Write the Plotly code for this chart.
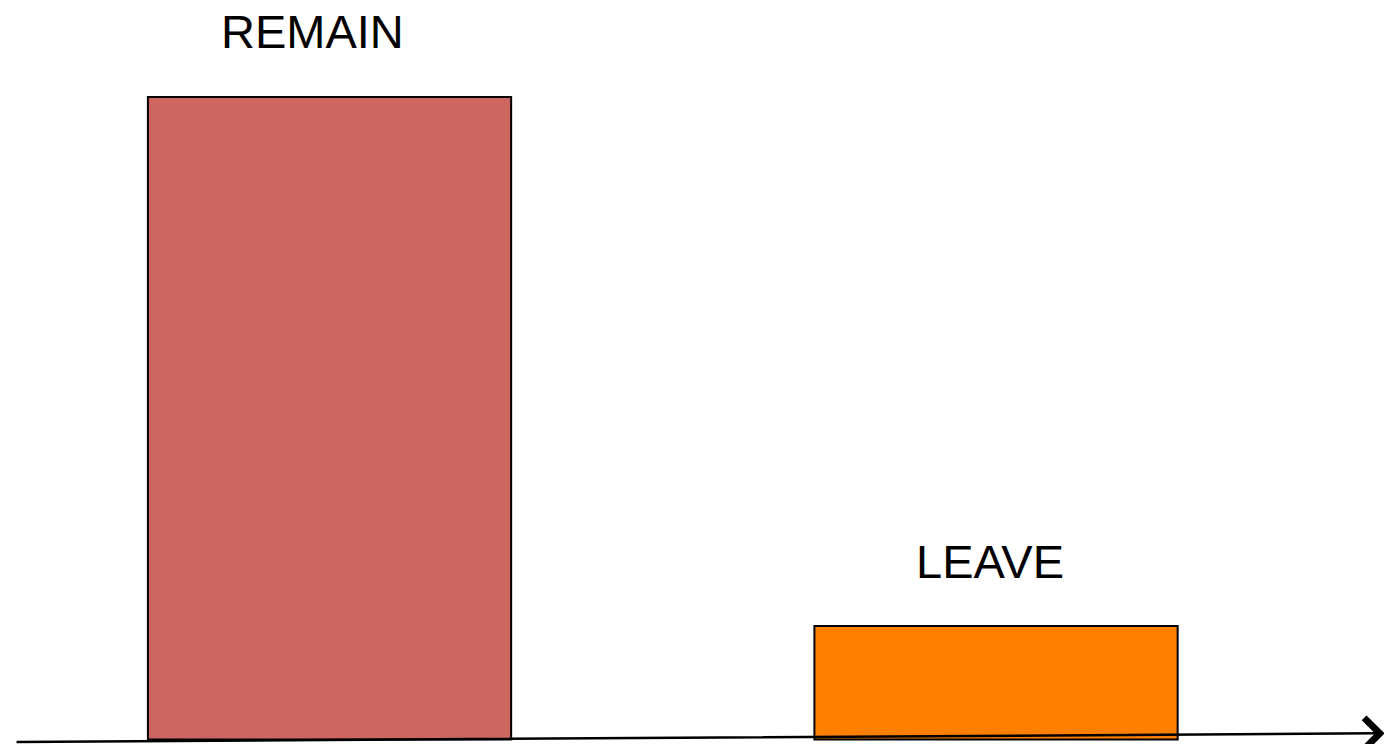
import plotly.graph_objects as go

categories = ["REMAIN", "LEAVE"]
values = [64.25, 11.35]
colors = ["#CD6660", "#FF7F00"]
label_x = [-0.026, 0.9917]
label_y = [70.8, 17.85]

fig = go.Figure()
fig.add_trace(go.Bar(
    x=[0, 1], y=values, width=0.545,
    marker=dict(color=colors, line=dict(color="black", width=2)),
    showlegend=False, hoverinfo="skip",
))

for i, c in enumerate(categories):
    fig.add_annotation(x=label_x[i], y=label_y[i], text=c, showarrow=False,
                       xanchor="center", yanchor="middle",
                       font=dict(family="Liberation Sans, Arial", size=47, color="black"))

# baseline axis with arrow
fig.add_annotation(x=1.583, y=0.62, ax=-0.4719, ay=-0.25,
                   xref="x", yref="y", axref="x", ayref="y",
                   showarrow=True, arrowhead=4, arrowwidth=2.5, arrowsize=2.4,
                   arrowcolor="black", text="")

fig.update_layout(
    width=1384, height=744,
    margin=dict(l=0, r=0, t=0, b=0),
    paper_bgcolor="white", plot_bgcolor="white",
    xaxis=dict(range=[-0.4944, 1.5821], visible=False, fixedrange=True),
    yaxis=dict(range=[-0.45, 73.95], visible=False, fixedrange=True),
)
fig.write_html("out.html", config={"displayModeBar": False},
               post_script="document.body.style.margin='0';document.body.style.overflow='hidden';")
